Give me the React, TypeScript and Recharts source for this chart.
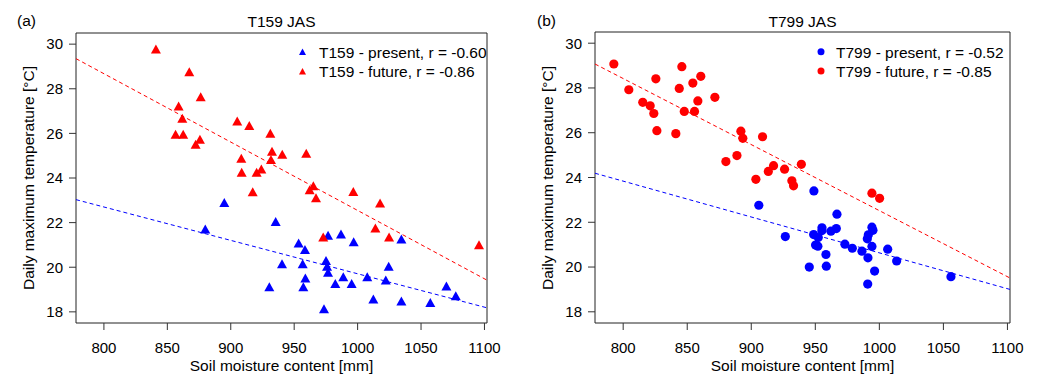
import React from "react";
import { ScatterChart, Scatter, XAxis, YAxis, ReferenceArea, ReferenceLine } from "recharts";

// soil moisture [mm] / daily max temperature [°C], one point per year
const t159PresentSoil = [879.9, 894.9, 930.4, 935.4, 953.5, 958.5, 940.4, 956.7, 958.8, 957.2, 975.1, 976.7, 986.9, 996.9, 975.9, 976.7, 973.5, 988.7, 982.4, 995.3, 1007.6, 1022.2, 1024.5, 1034.5, 1012.4, 1034.5, 1057.3, 1070.0, 1077.4];
const t159PresentTmax = [21.71, 22.9, 19.12, 22.05, 21.09, 20.79, 20.16, 20.16, 19.52, 19.12, 20.3, 21.43, 21.49, 21.14, 20.04, 19.77, 18.14, 19.57, 19.27, 19.27, 19.57, 19.43, 20.04, 21.27, 18.58, 18.49, 18.42, 19.16, 18.72];

const t159FutureSoil = [841.0, 867.3, 876.3, 858.9, 861.8, 856.5, 862.5, 875.7, 872.3, 905.1, 914.6, 931.2, 932.5, 931.7, 940.6, 908.3, 908.6, 920.4, 924.1, 959.5, 917.3, 962.2, 965.1, 967.2, 996.6, 1017.7, 1014.0, 1024.8, 972.9, 1095.7];
const t159FutureTmax = [29.78, 28.76, 27.64, 27.23, 26.68, 25.96, 25.96, 25.74, 25.51, 26.56, 26.35, 26.01, 25.2, 24.83, 25.07, 24.89, 24.26, 24.26, 24.4, 25.11, 23.38, 23.47, 23.65, 23.11, 23.39, 22.88, 21.76, 21.36, 21.36, 21.01];

const t799PresentSoil = [905.9, 948.9, 926.6, 966.9, 955.2, 955.2, 966.4, 962.2, 948.7, 952.3, 950.2, 952.0, 958.3, 945.3, 958.6, 973.1, 978.9, 986.4, 991.1, 994.2, 995.0, 991.4, 990.6, 994.2, 1006.5, 1013.5, 996.3, 990.9, 1055.9];
const t799PresentTmax = [22.76, 23.4, 21.36, 22.36, 21.75, 21.63, 21.72, 21.6, 21.45, 21.32, 20.98, 20.93, 20.56, 20.0, 20.04, 21.02, 20.84, 20.71, 20.41, 21.78, 21.64, 21.44, 21.26, 20.92, 20.8, 20.27, 19.82, 19.24, 19.57];

const t799FutureSoil = [792.7, 804.4, 815.3, 821.1, 823.9, 826.3, 825.5, 841.1, 843.8, 845.8, 847.7, 854.4, 860.6, 858.3, 855.7, 871.6, 891.9, 893.4, 908.8, 880.2, 888.8, 903.6, 913.3, 917.4, 926.0, 939.1, 931.7, 933.0, 994.2, 1000.2];
const t799FutureTmax = [29.07, 27.92, 27.36, 27.2, 26.86, 26.09, 28.41, 25.96, 27.98, 28.95, 26.95, 28.22, 28.52, 27.42, 26.95, 27.58, 26.07, 25.75, 25.82, 24.71, 24.98, 23.92, 24.27, 24.53, 24.37, 24.59, 23.85, 23.63, 23.3, 23.07];

// regression lines, value at both ends of the x range
const fitSoil = [778, 1102];
const t159PresentFit = [23.03, 18.18];
const t159FutureFit = [29.35, 19.42];
const t799PresentFit = [24.19, 19.0];
const t799FutureFit = [29.07, 19.51];

const xTicks = [800, 850, 900, 950, 1000, 1050, 1100];
const yTicks = [18, 20, 22, 24, 26, 28, 30];

const FONT = '"Liberation Sans", Arial, Helvetica, sans-serif';
const X_DOMAIN: [number, number] = [778, 1102];
const Y_DOMAIN: [number, number] = [17.5, 30.5];

const toPoints = (xs: number[], ys: number[]) => xs.map((x, i) => ({ x, y: ys[i] }));

const Triangle = (props: any) => {
  const { cx, cy, fill } = props;
  return <path d={`M${cx - 5},${cy + 4.5}L${cx + 5},${cy + 4.5}L${cx},${cy - 4.5}Z`} fill={fill} />;
};

const Dot = (props: any) => {
  const { cx, cy, fill } = props;
  return <circle cx={cx} cy={cy} r={4.6} fill={fill} />;
};

function fitSegment(ys: number[]) {
  return [
    { x: fitSoil[0], y: ys[0] },
    { x: fitSoil[1], y: ys[1] },
  ];
}

interface PanelProps {
  width: number;
  margin: { top: number; right: number; bottom: number; left: number };
  present: { x: number; y: number }[];
  future: { x: number; y: number }[];
  presentFit: number[];
  futureFit: number[];
  shape: (p: any) => React.ReactElement;
}

function Panel({ width, margin, present, future, presentFit, futureFit, shape }: PanelProps) {
  const tick = { fill: "#000", fontSize: 15, fontFamily: FONT };
  return (
    <ScatterChart width={width} height={385} margin={margin}>
      <XAxis
        type="number"
        dataKey="x"
        domain={X_DOMAIN}
        ticks={xTicks}
        allowDataOverflow
        axisLine={false}
        tickSize={7}
        tickMargin={12}
        tickLine={{ stroke: "#333" }}
        tick={tick}
        height={40}
        interval={0}
      />
      <YAxis
        type="number"
        dataKey="y"
        domain={Y_DOMAIN}
        ticks={yTicks}
        allowDataOverflow
        axisLine={false}
        tickSize={7}
        tickMargin={6}
        tickLine={{ stroke: "#333" }}
        tick={tick}
        width={40}
        interval={0}
      />
      <ReferenceArea x1={X_DOMAIN[0]} x2={X_DOMAIN[1]} y1={Y_DOMAIN[0]} y2={Y_DOMAIN[1]} fill="none" fillOpacity={0} stroke="#222" strokeWidth={1} ifOverflow="visible" />
      <ReferenceLine segment={fitSegment(presentFit)} stroke="#0000ff" strokeDasharray="4 3" strokeWidth={1} ifOverflow="visible" />
      <ReferenceLine segment={fitSegment(futureFit)} stroke="#ff0000" strokeDasharray="4 3" strokeWidth={1} ifOverflow="visible" />
      <Scatter data={present} fill="#0000ff" shape={shape} isAnimationActive={false} />
      <Scatter data={future} fill="#ff0000" shape={shape} isAnimationActive={false} />
    </ScatterChart>
  );
}

function Overlay() {
  const t = { fontFamily: FONT, fontSize: 15.5, fill: "#000" };
  return (
    <svg width={1055} height={385} style={{ position: "absolute", left: 0, top: 0, pointerEvents: "none" }}>
      <text x={17} y={26} {...t}>(a)</text>
      <text x={281.5} y={27} textAnchor="middle" {...t}>T159 JAS</text>
      <text x={281.5} y={371} textAnchor="middle" {...t}>Soil moisture content [mm]</text>
      <text x={34} y={178} textAnchor="middle" transform="rotate(-90 34 178)" {...t}>Daily maximum temperature [°C]</text>
      <path d="M299,55 L306,55 L302.5,48.5Z" fill="#0000ff" />
      <path d="M299,74.5 L306,74.5 L302.5,68Z" fill="#ff0000" />
      <text x={319} y={57.5} {...t}>T159 - present, r = -0.60</text>
      <text x={319} y={77} {...t}>T159 - future, r = -0.86</text>

      <text x={537} y={26} {...t}>(b)</text>
      <text x={802.5} y={27} textAnchor="middle" {...t}>T799 JAS</text>
      <text x={802.5} y={371} textAnchor="middle" {...t}>Soil moisture content [mm]</text>
      <text x={553} y={178} textAnchor="middle" transform="rotate(-90 553 178)" {...t}>Daily maximum temperature [°C]</text>
      <circle cx={821} cy={51.7} r={3.5} fill="#0000ff" />
      <circle cx={821} cy={71} r={3.5} fill="#ff0000" />
      <text x={836} y={57.5} {...t}>T799 - present, r = -0.52</text>
      <text x={836} y={77} {...t}>T799 - future, r = -0.85</text>
    </svg>
  );
}

export default function App() {
  return (
    <div style={{ position: "fixed", left: 0, top: 0, width: 1055, height: 385, background: "#fff", fontFamily: FONT }}>
      <div style={{ position: "absolute", left: 0, top: 0 }}>
        <Panel
          width={530}
          margin={{ top: 33, right: 43, bottom: 22, left: 36 }}
          present={toPoints(t159PresentSoil, t159PresentTmax)}
          future={toPoints(t159FutureSoil, t159FutureTmax)}
          presentFit={t159PresentFit}
          futureFit={t159FutureFit}
          shape={Triangle}
        />
      </div>
      <div style={{ position: "absolute", left: 530, top: 0 }}>
        <Panel
          width={525}
          margin={{ top: 32, right: 45, bottom: 22, left: 25 }}
          present={toPoints(t799PresentSoil, t799PresentTmax)}
          future={toPoints(t799FutureSoil, t799FutureTmax)}
          presentFit={t799PresentFit}
          futureFit={t799FutureFit}
          shape={Dot}
        />
      </div>
      <Overlay />
    </div>
  );
}
